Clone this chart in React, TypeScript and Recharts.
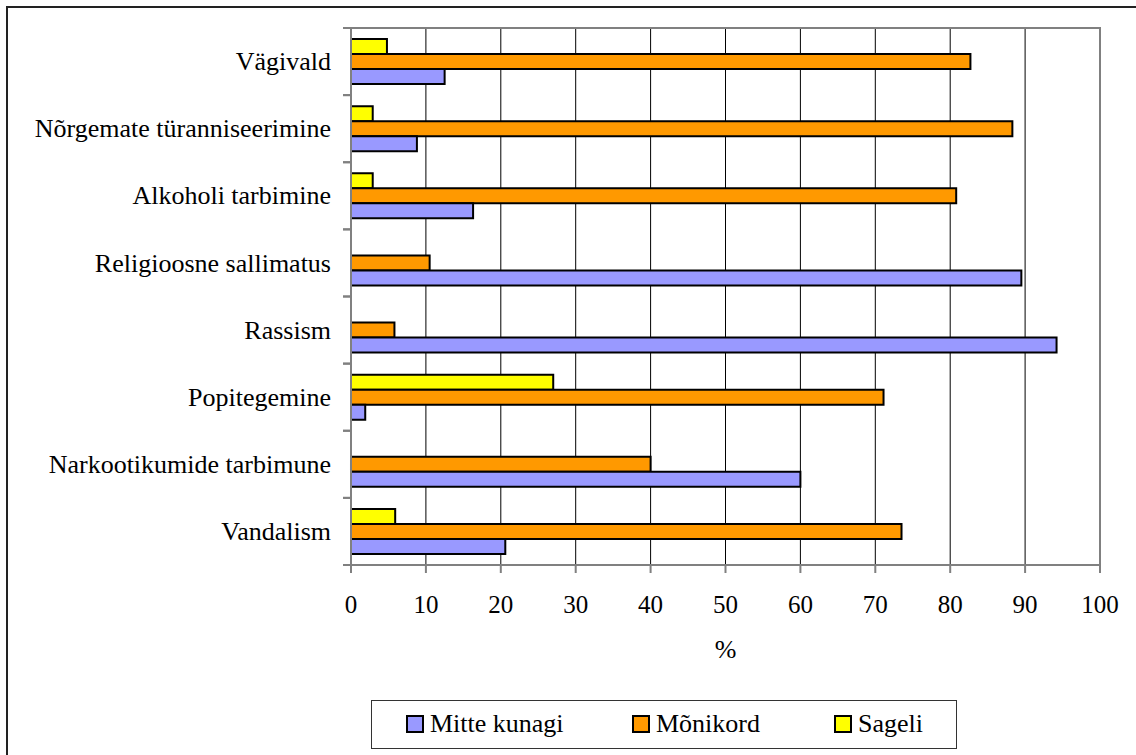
import { useLayoutEffect } from 'react'
import { BarChart, Bar, XAxis, YAxis, CartesianGrid, Legend, ReferenceArea } from 'recharts'

const categories = [
  'Vägivald',
  'Nõrgemate türanniseerimine',
  'Alkoholi tarbimine',
  'Religioosne sallimatus',
  'Rassism',
  'Popitegemine',
  'Narkootikumide tarbimune',
  'Vandalism',
]
const mitteKunagi = [12.5, 8.8, 16.3, 89.5, 94.2, 1.9, 60.0, 20.6]
const monikord = [82.7, 88.3, 80.8, 10.5, 5.8, 71.1, 40.0, 73.5]
const sageli = [4.8, 2.9, 2.9, 0, 0, 27.0, 0, 5.9]
const xTicks = [0, 10, 20, 30, 40, 50, 60, 70, 80, 90, 100]

const seriesNames = ['Mitte kunagi', 'Mõnikord', 'Sageli']
const seriesColors = ['#9999ff', '#ff9900', '#ffff00']

const data = categories.map((name, i) => ({
  name,
  mitte: mitteKunagi[i],
  monikord: monikord[i],
  sageli: sageli[i],
}))

const W = 1136
const H = 755
const PLOT_TOP = 28
const PLOT_BOTTOM = 565
const AXIS_GRAY = '#808080'
const FONT = '"Liberation Serif", "Times New Roman", serif'

// the page is captured only inside #root, so drop the body margin and draw edge to edge
if (typeof document !== 'undefined') document.body.style.margin = '0'

// category ticks sit on the band edges, labels in the middle
const YTick = ({ x, y, payload }: any) => {
  const half = (PLOT_BOTTOM - PLOT_TOP) / categories.length / 2
  return (
    <g>
      <line x1={x} x2={x + 8} y1={y - half} y2={y - half} stroke={AXIS_GRAY} strokeWidth={2} />
      <line x1={x} x2={x + 8} y1={y + half} y2={y + half} stroke={AXIS_GRAY} strokeWidth={2} />
      <text x={x - 12} y={y} dy="0.33em" textAnchor="end" fontSize={26} fill="#000" fontFamily={FONT}>
        {payload.value}
      </text>
    </g>
  )
}

const legendLefts = [35, 261, 463]

const LegendBox = () => (
  <div style={{
    marginLeft: 371,
    width: 586,
    height: 49,
    boxSizing: 'border-box',
    border: '1.5px solid #333',
    position: 'relative',
    fontFamily: FONT,
    fontSize: 26,
    lineHeight: 1,
  }}>
    {seriesNames.map((n, i) => (
      <div key={n} style={{
        position: 'absolute',
        left: legendLefts[i] - 1,
        top: 0,
        height: 46,
        display: 'flex',
        alignItems: 'center',
        gap: 6,
      }}>
        <span style={{
          width: 18,
          height: 18,
          boxSizing: 'border-box',
          border: '2px solid #000',
          background: seriesColors[i],
          display: 'inline-block',
        }} />
        <span style={{ color: '#000', whiteSpace: 'nowrap' }}>{n}</span>
      </div>
    ))}
  </div>
)

export default function App() {
  useLayoutEffect(() => {
    document.body.style.margin = '0'
  }, [])
  return (
    <div style={{ position: 'relative', width: W, height: H, overflow: 'hidden', background: '#fff', fontFamily: FONT }}>
      <div style={{ position: 'absolute', left: 0, top: 0 }}>
        <BarChart
          width={W}
          height={H}
          data={data}
          layout="vertical"
          margin={{ top: PLOT_TOP, right: 36, bottom: 6, left: 0 }}
          barCategoryGap={11}
          barGap={0}
        >
          <CartesianGrid horizontal={false} stroke="#000" strokeWidth={1} />
          <ReferenceArea x1={0} x2={100} fill="none" stroke={AXIS_GRAY} strokeWidth={2} />
          <XAxis
            type="number"
            domain={[0, 100]}
            ticks={xTicks}
            height={135}
            tickSize={8}
            tickMargin={22}
            axisLine={{ stroke: AXIS_GRAY, strokeWidth: 2 }}
            tickLine={{ stroke: AXIS_GRAY, strokeWidth: 2 }}
            tick={{ fontSize: 25, fill: '#000', fontFamily: FONT }}
            label={{ value: '%', position: 'insideBottom', offset: 42, fontSize: 26, fill: '#000', fontFamily: FONT }}
          />
          <YAxis
            type="category"
            dataKey="name"
            width={351}
            tickLine={false}
            axisLine={{ stroke: AXIS_GRAY, strokeWidth: 2 }}
            tick={<YTick />}
            interval={0}
          />
          <Legend verticalAlign="bottom" align="left" content={() => <LegendBox />} />
          <Bar dataKey="sageli" name="Sageli" fill={seriesColors[2]} stroke="#000" strokeWidth={2} isAnimationActive={false} />
          <Bar dataKey="monikord" name="Mõnikord" fill={seriesColors[1]} stroke="#000" strokeWidth={2} isAnimationActive={false} />
          <Bar dataKey="mitte" name="Mitte kunagi" fill={seriesColors[0]} stroke="#000" strokeWidth={2} isAnimationActive={false} />
        </BarChart>
      </div>
      <div style={{
        position: 'absolute',
        left: 6,
        top: 6,
        width: W - 6,
        height: H - 6,
        boxSizing: 'border-box',
        borderLeft: '2px solid #222',
        borderTop: '2px solid #222',
        pointerEvents: 'none',
      }} />
    </div>
  )
}
